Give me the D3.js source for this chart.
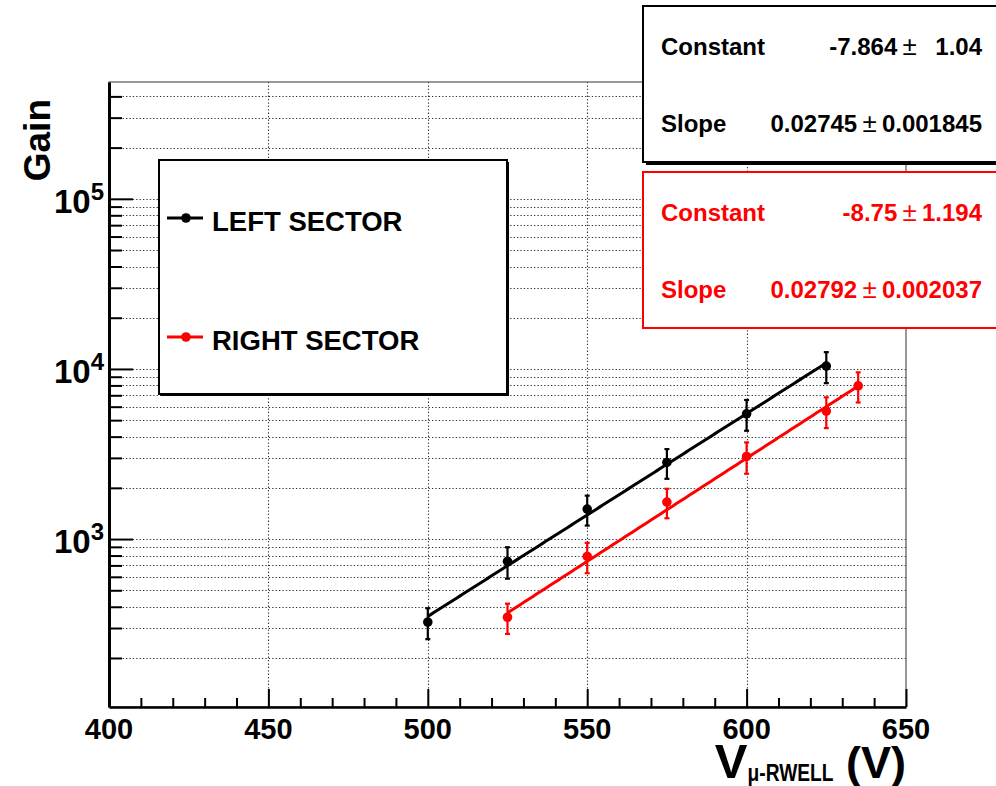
<!DOCTYPE html>
<html>
<head>
<meta charset="utf-8">
<script src="https://cdn.jsdelivr.net/npm/d3@7"></script>
<style>
  body { margin: 0; background: #fff; }
  svg { display: block; }
  text { font-family: "Liberation Sans", Arial, Helvetica, sans-serif; font-weight: bold; }
</style>
</head>
<body>
<svg id="chart" width="996" height="786"></svg>
<script>
// Gain vs. amplification voltage for the two sectors
const leftVoltage  = [500, 525, 550, 575, 600, 625];
const leftGain     = [325, 740, 1500, 2820, 5450, 10400];
const leftGainErr  = [67, 155, 300, 560, 1120, 2150];

const rightVoltage = [525, 550, 575, 600, 625, 635];
const rightGain    = [347, 790, 1650, 3060, 5650, 7950];
const rightGainErr = [70, 160, 325, 640, 1160, 1600];

// Exponential fit parameters: gain = exp(Constant + Slope * V)
const fitParamNames   = ["Constant", "Slope"];
const leftFitValues   = [-7.864, 0.02745];
const leftFitErrors   = [1.04, 0.001845];
const rightFitValues  = [-8.75, 0.02792];
const rightFitErrors  = [1.194, 0.002037];

const seriesNames  = ["LEFT SECTOR", "RIGHT SECTOR"];
const seriesColors = ["#000000", "#ff0000"];

const xTickValues = [400, 450, 500, 550, 600, 650];
const yMajorTicks = [1e3, 1e4, 1e5];
const yMajorExponents = ["3", "4", "5"];

const svg = d3.select("#chart");

// Frame geometry
const frame = { left: 109, right: 906, top: 82, bottom: 707 };

const x = d3.scaleLinear().domain([400, 650]).range([frame.left, frame.right]);
const y = d3.scaleLog().domain([103, 4.86e5]).range([frame.bottom, frame.top]);

// ----- grid -----
const yAllTicks = [];
[100, 1000, 10000, 100000].forEach(dec => {
  for (let m = 1; m <= 9; m++) {
    const v = dec * m;
    if (v >= y.domain()[0] && v <= y.domain()[1]) yAllTicks.push(v);
  }
});

const grid = svg.append("g").attr("class", "grid")
  .attr("stroke", "#333").attr("stroke-width", 1.1).attr("stroke-dasharray", "1.3,2.1");

grid.selectAll("line.h").data(yAllTicks).join("line")
  .attr("class", "h")
  .attr("x1", frame.left).attr("x2", frame.right)
  .attr("y1", d => Math.round(y(d)) + 0.5).attr("y2", d => Math.round(y(d)) + 0.5);

grid.selectAll("line.v").data(xTickValues.slice(1, -1)).join("line")
  .attr("class", "v")
  .attr("y1", frame.top).attr("y2", frame.bottom)
  .attr("x1", d => Math.round(x(d)) + 0.5).attr("x2", d => Math.round(x(d)) + 0.5);

// ----- frame box -----
svg.append("rect")
  .attr("x", frame.left).attr("y", frame.top)
  .attr("width", frame.right - frame.left).attr("height", frame.bottom - frame.top)
  .attr("fill", "none").attr("stroke", "#555").attr("stroke-width", 1.2);

// ----- x axis (ticks pointing up into the frame) -----
const xMinor = d3.range(400, 651, 10);
const xAxis = d3.axisBottom(x)
  .tickValues(xMinor)
  .tickSize(0)
  .tickFormat("");
const gx = svg.append("g").attr("transform", `translate(0,${frame.bottom})`).call(xAxis);
gx.select(".domain").attr("stroke", "#000").attr("stroke-width", 2.5);
gx.selectAll(".tick line")
  .attr("y2", d => (xTickValues.includes(d) ? -18 : -9))
  .attr("stroke", "#000").attr("stroke-width", 2);

svg.append("g").selectAll("text").data(xTickValues).join("text")
  .attr("x", d => x(d)).attr("y", 739)
  .attr("text-anchor", "middle")
  .attr("font-size", 29)
  .text(d => d);

// ----- y axis (log, ticks pointing right into the frame) -----
const yAxis = d3.axisLeft(y).tickValues(yAllTicks).tickSize(0).tickFormat("");
const gy = svg.append("g").attr("transform", `translate(${frame.left},0)`).call(yAxis);
gy.select(".domain").attr("stroke", "#000").attr("stroke-width", 3);
gy.selectAll(".tick line")
  .attr("x2", d => (yMajorTicks.includes(d) ? 24 : 13))
  .attr("stroke", "#000").attr("stroke-width", 2);

const yLabels = svg.append("g").selectAll("text").data(yMajorTicks).join("text")
  .attr("x", 104).attr("y", d => y(d) + 14)
  .attr("text-anchor", "end")
  .attr("font-size", 33);
yLabels.append("tspan").text("10");
yLabels.append("tspan")
  .attr("dy", -13).attr("font-size", 24)
  .text((d, i) => yMajorExponents[i]);

// Axis titles
svg.append("text")
  .attr("transform", "translate(50,99) rotate(-90)")
  .attr("text-anchor", "end")
  .attr("font-size", 37)
  .text("Gain");

const xTitle = svg.append("text")
  .attr("x", frame.right).attr("y", 778)
  .attr("text-anchor", "end")
  .attr("font-size", 45);
xTitle.append("tspan").attr("font-size", 49).text("V");
xTitle.append("tspan").attr("font-size", 24).attr("dy", 3)
  .attr("textLength", 86).attr("lengthAdjust", "spacingAndGlyphs")
  .text("\u03bc-RWELL");
xTitle.append("tspan").attr("dy", -3).text(" (V)");

// ----- fit curves -----
function drawFit(voltages, params, color) {
  const [c, s] = params;
  const vs = d3.range(d3.min(voltages), d3.max(voltages) + 0.001, 1);
  const line = d3.line().x(v => x(v)).y(v => y(Math.exp(c + s * v)));
  svg.append("path")
    .datum(vs)
    .attr("d", line)
    .attr("fill", "none")
    .attr("stroke", color)
    .attr("stroke-width", 3);
}
drawFit(leftVoltage, leftFitValues, seriesColors[0]);
drawFit(rightVoltage, rightFitValues, seriesColors[1]);

// ----- data points with error bars -----
function drawPoints(voltages, gains, errs, color) {
  const data = voltages.map((v, i) => ({ v, g: gains[i], e: errs[i] }));
  const g = svg.append("g").attr("stroke", color).attr("fill", color);
  g.selectAll("line.err").data(data).join("line")
    .attr("class", "err")
    .attr("x1", d => x(d.v)).attr("x2", d => x(d.v))
    .attr("y1", d => y(d.g - d.e)).attr("y2", d => y(d.g + d.e))
    .attr("stroke-width", 2.2);
  ["lo", "hi"].forEach(side => {
    g.selectAll("line.cap-" + side).data(data).join("line")
      .attr("class", "cap-" + side)
      .attr("x1", d => x(d.v) - 2.5).attr("x2", d => x(d.v) + 2.5)
      .attr("y1", d => y(side === "lo" ? d.g - d.e : d.g + d.e))
      .attr("y2", d => y(side === "lo" ? d.g - d.e : d.g + d.e))
      .attr("stroke-width", 2.2);
  });
  g.selectAll("circle").data(data).join("circle")
    .attr("cx", d => x(d.v)).attr("cy", d => y(d.g))
    .attr("r", 4.8).attr("stroke", "none");
}
drawPoints(leftVoltage, leftGain, leftGainErr, seriesColors[0]);
drawPoints(rightVoltage, rightGain, rightGainErr, seriesColors[1]);

// ----- legend -----
const legend = svg.append("g");
legend.append("rect").attr("x", 161).attr("y", 162).attr("width", 348).attr("height", 234).attr("fill", "#000");
legend.append("rect").attr("x", 159).attr("y", 160).attr("width", 348).attr("height", 234)
  .attr("fill", "#fff").attr("stroke", "#000").attr("stroke-width", 2);
const legendRows = [218, 337];
seriesNames.forEach((name, i) => {
  const ly = legendRows[i];
  legend.append("line").attr("x1", 167).attr("x2", 203).attr("y1", ly).attr("y2", ly)
    .attr("stroke", seriesColors[i]).attr("stroke-width", 3);
  legend.append("circle").attr("cx", 186).attr("cy", ly).attr("r", 4.8).attr("fill", seriesColors[i]);
  legend.append("text").attr("x", 212).attr("y", ly + 13)
    .attr("font-size", 27.5).attr("fill", "#000").text(name);
});

// ----- fit statistics boxes -----
function statBox(top, values, errors, color, shadow) {
  const g = svg.append("g");
  if (shadow) {
    g.append("rect").attr("x", 646).attr("y", top + 3).attr("width", 400).attr("height", 156).attr("fill", "#000");
  }
  g.append("rect").attr("x", 643).attr("y", top).attr("width", 400).attr("height", 156)
    .attr("fill", "#fff").attr("stroke", color).attr("stroke-width", 2);
  const rows = [top + 49, top + 126];
  fitParamNames.forEach((name, i) => {
    g.append("text").attr("x", 661).attr("y", rows[i]).attr("font-size", 24)
      .attr("fill", color).text(name);
    const t = g.append("text").attr("x", 982).attr("y", rows[i]).attr("font-size", 24)
      .attr("text-anchor", "end").attr("fill", color);
    t.append("tspan").text(String(values[i]));
    t.append("tspan").attr("font-weight", "normal").attr("font-size", 26).text("\u2009\u00b1\u2009");
    t.append("tspan").text(String(errors[i]).padStart(5, "\u2007"));
  });
}
statBox(6, leftFitValues, leftFitErrors, "#000", true);
statBox(172, rightFitValues, rightFitErrors, "#ff0000", false);
</script>
</body>
</html>
